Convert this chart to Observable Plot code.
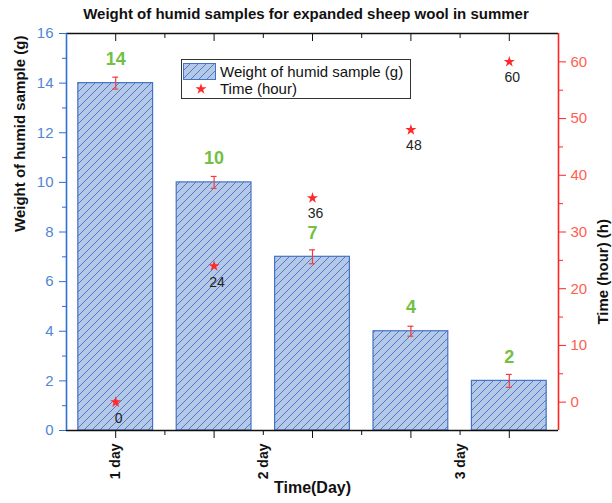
<!DOCTYPE html>
<html>
<head>
<meta charset="utf-8">
<script src="https://cdn.jsdelivr.net/npm/d3@7"></script>
<script src="https://cdn.jsdelivr.net/npm/@observablehq/plot@0.6"></script>
<style>
  body { margin: 0; background: #fff; font-family: "Liberation Sans", Arial, sans-serif; }
  #wrap { position: relative; width: 612px; height: 503px; overflow: hidden; }
  #title { height: 26px; box-sizing: border-box; padding-top: 5px; text-align: center; font-weight: bold; font-size: 15px; line-height: 18px; color: #111; }
  #legend { position: absolute; left: 181px; top: 59px; width: 230px; height: 40px; border: 1px solid #333; box-sizing: border-box; background: #fff; font-size: 15px; color: #111; }
  #legend .item { position: absolute; left: 0; height: 18px; width: 100%; }
  #legend .sw { position: absolute; left: 1px; top: 0; }
  #legend .lbl { position: absolute; left: 38px; top: 0; line-height: 18px; white-space: nowrap; }
</style>
</head>
<body>
<div id="wrap">
  <div id="title"></div>
  <div id="chart"></div>
  <div id="legend"></div>
</div>
<script>
// ---------- data ----------
const chartTitle = "Weight of humid samples for expanded sheep wool in summer";
const days = [1, 2, 3, 4, 5];
const weights = [14, 10, 7, 4, 2];
const weightErrors = [0.24, 0.24, 0.28, 0.2, 0.26];
const hours = [0, 24, 36, 48, 60];
const dayTickValues = [1, 2.5, 4.5];
const dayTickLabels = ["1 day", "2 day", "3 day"];
const dayMinorTicks = [1.5, 2.5, 3.5, 4.5];
const weightTicks = [0, 2, 4, 6, 8, 10, 12, 14, 16];
const weightMinorTicks = [1, 3, 5, 7, 9, 11, 13, 15];
const hourTicks = [0, 10, 20, 30, 40, 50, 60];
const hourMinorTicks = [5, 15, 25, 35, 45, 55];
const xDomain = [0.5, 5.5];
const weightDomain = [0, 16];
const hourDomain = [-5, 65];
const yLabelLeft = "Weight of humid sample (g)";
const yLabelRight = "Time (hour) (h)";
const xLabel = "Time(Day)";
const legendLabels = ["Weight of humid sample (g)", "Time (hour)"];

// ---------- helpers ----------
const hourToY = h => weightDomain[0] + (h - hourDomain[0]) * (weightDomain[1] - weightDomain[0]) / (hourDomain[1] - hourDomain[0]);
const yToHour = y => hourDomain[0] + (y - weightDomain[0]) * (hourDomain[1] - hourDomain[0]) / (weightDomain[1] - weightDomain[0]);
const data = days.map((d, i) => ({day: d, weight: weights[i], err: weightErrors[i], hour: hours[i]}));
const barHalf = 0.38, capHalf = 0.03;

const BLUE = "#2f6fd0", BLUE_TXT = "#4f86d6", RED = "#ff2424", RED_TXT = "#ff5e50", GREEN = "#72bf44";

document.getElementById("title").textContent = chartTitle;

const chart = Plot.plot({
  width: 612,
  height: 477,
  marginLeft: 66,
  marginRight: 54,
  marginTop: 7,
  marginBottom: 73,
  style: {fontFamily: "Liberation Sans, Arial, sans-serif", background: "white", overflow: "visible", color: "#111"},
  x: {type: "linear", domain: xDomain, axis: null, label: null},
  y: {domain: weightDomain, axis: null, label: null},
  marks: [
    Plot.rectY(data, {x1: d => d.day - barHalf, x2: d => d.day + barHalf, y1: 0, y2: "weight", fill: "url(#hatch)", stroke: "#4472c4", strokeWidth: 1.2}),
    // frame lines
    Plot.ruleY([weightDomain[1]], {stroke: "#111", strokeWidth: 1.4}),
    Plot.ruleY([weightDomain[0]], {stroke: "#111", strokeWidth: 1.4}),
    Plot.ruleX([xDomain[0]], {stroke: BLUE, strokeWidth: 1.6}),
    Plot.ruleX([xDomain[1]], {stroke: RED, strokeWidth: 1.6}),
    // error bars
    Plot.ruleX(data, {x: "day", y1: d => d.weight - d.err, y2: d => d.weight + d.err, stroke: "#f03c3c", strokeWidth: 1.2}),
    Plot.ruleY(data, {y: d => d.weight + d.err, x1: d => d.day - capHalf, x2: d => d.day + capHalf, stroke: "#f03c3c", strokeWidth: 1.2}),
    Plot.ruleY(data, {y: d => d.weight - d.err, x1: d => d.day - capHalf, x2: d => d.day + capHalf, stroke: "#f03c3c", strokeWidth: 1.2}),
    // value labels
    Plot.text(data, {x: "day", y: "weight", text: d => String(d.weight), dy: -24, fill: GREEN, fontSize: 18, fontWeight: "bold"}),
    // time stars
    Plot.dot(data, {x: "day", y: d => hourToY(d.hour), symbol: "star", r: 3.5, fill: "#ff2a2a", stroke: "none"}),
    Plot.text(data, {x: "day", y: d => hourToY(d.hour), text: d => String(d.hour), dx: 3, dy: 16, fill: "#222", fontSize: 14}),
    // left axis
    Plot.axisY(weightTicks, {anchor: "left", tickSize: 7, tickPadding: 6, stroke: BLUE, fill: BLUE_TXT, fontSize: 15, label: null}),
    Plot.axisY(weightMinorTicks, {anchor: "left", tickSize: 4, stroke: BLUE, tickFormat: () => "", label: null}),
    // right axis
    Plot.axisY(hourTicks.map(hourToY), {anchor: "right", tickSize: 7, tickPadding: 5, stroke: RED, fill: RED_TXT, fontSize: 15, tickFormat: d => String(Math.round(yToHour(d))), label: null}),
    Plot.axisY(hourMinorTicks.map(hourToY), {anchor: "right", tickSize: 4, stroke: RED, tickFormat: () => "", label: null}),
    // bottom axis
    Plot.axisX(days, {anchor: "bottom", tickSize: 8, stroke: "#111", tickFormat: () => "", label: null}),
    Plot.axisX(dayMinorTicks, {anchor: "bottom", tickSize: 5, stroke: "#111", tickFormat: () => "", label: null}),
    Plot.axisX(dayTickValues, {anchor: "bottom", tickSize: 0, tickPadding: 13, tickRotate: -90, fontSize: 14, fontWeight: "bold", fill: "#111", tickFormat: d => dayTickLabels[dayTickValues.indexOf(d)], label: null}),
    // top axis (inward ticks)
    Plot.axisX(days, {anchor: "top", tickSize: -7, stroke: "#111", tickFormat: () => "", label: null}),
    Plot.axisX(dayMinorTicks, {anchor: "top", tickSize: -4, stroke: "#111", tickFormat: () => "", label: null}),
    // axis titles
    Plot.text([yLabelLeft], {text: d => d, frameAnchor: "left", rotate: -90, dx: -46, fontSize: 15, fontWeight: "bold", fill: "#111"}),
    Plot.text([yLabelRight], {text: d => d, frameAnchor: "right", rotate: -90, dx: 45, dy: -13, fontSize: 15, fontWeight: "bold", fill: "#111"}),
    Plot.text([xLabel], {text: d => d, frameAnchor: "bottom", dy: 62, fontSize: 16, fontWeight: "bold", fill: "#111"})
  ]
});

const hatchDef = (id) => `<pattern id="${id}" patternUnits="userSpaceOnUse" width="8" height="8"><rect width="8" height="8" fill="#b4c8e8"/><path d="M-2,2 l4,-4 M0,8 l8,-8 M6,10 l4,-4" stroke="#4a6fbf" stroke-width="0.9"/></pattern>`;
d3.select(chart).insert("defs", ":first-child").html(hatchDef("hatch"));
document.getElementById("chart").appendChild(chart);

// ---------- legend ----------
const legend = d3.select("#legend");
const item1 = legend.append("div").attr("class", "item").style("top", "3px");
const sw1 = item1.append("svg").attr("class", "sw").attr("width", 33).attr("height", 17);
sw1.append("defs").html(hatchDef("hatch2"));
sw1.append("rect").attr("x", 0.5).attr("y", 0.5).attr("width", 32).attr("height", 16).attr("fill", "url(#hatch2)").attr("stroke", "#4472c4");
item1.append("div").attr("class", "lbl").text(legendLabels[0]);
const item2 = legend.append("div").attr("class", "item").style("top", "20px");
const sw2 = item2.append("svg").attr("class", "sw").attr("width", 33).attr("height", 17);
sw2.append("path").attr("transform", "translate(18,9)").attr("d", d3.symbol(d3.symbolStar, 3.5 * 3.5 * Math.PI)()).attr("fill", "#ff2a2a");
item2.append("div").attr("class", "lbl").text(legendLabels[1]);
</script>
</body>
</html>
